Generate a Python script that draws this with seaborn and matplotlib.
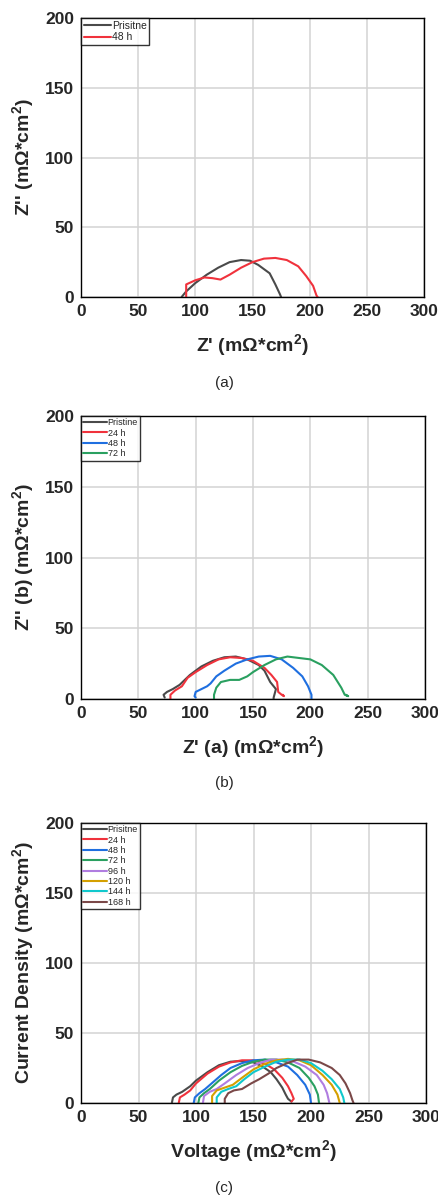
import numpy as np
import pandas as pd
import matplotlib
matplotlib.use("Agg")
import matplotlib.pyplot as plt
import seaborn as sns

# ---------------- data ----------------
# Panel (a)
a_prist_x = [88, 92, 100, 110, 120, 130, 140, 148, 155, 165, 170, 174, 175]
a_prist_y = [0, 4, 10, 16, 21, 25, 26.5, 26, 23, 17, 9, 2, 0]
a_48_x = [92, 92, 100, 108, 115, 122, 130, 140, 150, 160, 170, 180, 190, 197, 203, 206, 207]
a_48_y = [0, 9, 12, 14, 13.5, 12.5, 16, 21, 25, 27.5, 28, 26.5, 22, 15, 8, 1, 0]

# Panel (b)
b_prist_x = [73, 72, 75, 80, 86, 95, 105, 115, 125, 135, 145, 155, 160, 165, 170, 168, 168]
b_prist_y = [1, 3, 5, 7, 10, 17, 23, 27, 29.5, 30, 28, 24, 20, 12, 7, 1, 0]
b_24_x = [78, 78, 82, 88, 93, 100, 110, 120, 130, 140, 150, 160, 166, 171, 172, 175, 177, 176]
b_24_y = [0, 3, 6, 9, 15, 19, 24, 28, 29.5, 29, 27, 22, 17, 12, 5, 3, 2, 3]
b_48_x = [100, 99, 100, 105, 110, 113, 118, 125, 135, 145, 155, 165, 175, 185, 193, 198, 201, 201]
b_48_y = [1, 2, 5, 7, 9, 11, 16, 20, 25, 28, 30, 30.5, 28, 22, 16, 9, 3, 0]
b_72_x = [116, 116, 118, 122, 130, 138, 145, 150, 160, 170, 180, 190, 200, 210, 220, 227, 230, 233, 231]
b_72_y = [0, 3, 8, 12, 13.5, 13.5, 16, 19, 24, 28, 30, 29, 28, 24, 17, 8, 3, 2, 3]

# Panel (c)
c_prist_x = [79, 80, 83, 88, 95, 100, 110, 120, 130, 140, 150, 158, 165, 170, 175, 178, 180, 183]
c_prist_y = [0, 4, 6, 8, 12, 16, 22, 27, 29.5, 30, 29, 26, 22, 17, 11, 6, 3, 1]
c_24_x = [85, 86, 90, 95, 100, 110, 120, 130, 140, 150, 160, 168, 175, 180, 183, 185, 183]
c_24_y = [0, 4, 6, 9, 14, 21, 26, 29, 30.5, 30.5, 28, 24, 18, 12, 7, 3, 1]
c_48_x = [98, 99, 103, 108, 115, 122, 130, 140, 150, 160, 170, 180, 188, 195, 199, 200]
c_48_y = [0, 4, 7, 10, 15, 20, 25, 28.5, 30.5, 31, 29, 26, 20, 13, 6, 0]
c_72_x = [102, 103, 107, 112, 120, 130, 140, 150, 160, 170, 180, 190, 198, 203, 206, 207]
c_72_y = [0, 4, 7, 10, 16, 22, 26.5, 29.5, 31, 31, 29, 25, 18, 12, 6, 0]
c_96_x = [106, 107, 112, 118, 125, 135, 145, 155, 165, 175, 185, 195, 205, 211, 214, 216]
c_96_y = [0, 5, 8, 10, 14, 20, 25, 28.5, 31, 31, 29.5, 26, 20, 13, 7, 0]
c_120_x = [114, 114, 118, 125, 132, 140, 150, 160, 170, 180, 190, 200, 210, 218, 223, 225]
c_120_y = [0, 5, 9, 11, 13, 18, 24, 28, 30.5, 31.5, 30.5, 27, 20, 13, 6, 0]
c_144_x = [118, 118, 122, 128, 135, 142, 150, 160, 170, 180, 190, 200, 210, 218, 225, 228, 229]
c_144_y = [0, 4, 8, 10, 12, 17, 22, 26, 29.5, 31, 31, 28.5, 23, 17, 10, 4, 0]
c_168_x = [125, 125, 128, 133, 140, 148, 155, 163, 170, 178, 188, 198, 208, 218, 225, 230, 234, 236, 237]
c_168_y = [0, 3, 7, 9, 10, 14, 17, 21, 25, 28, 31, 31, 29, 25, 20, 14, 7, 2, 0]

x_ticks = [0, 50, 100, 150, 200, 250, 300]
y_ticks = [0, 50, 100, 150, 200]

C_GRAY = "#4a4a4a"
C_RED = "#f0323c"
C_BLUE = "#1f6fe0"
C_GREEN = "#2aa060"
C_PURPLE = "#b07de0"
C_GOLD = "#d4a000"
C_CYAN = "#10c8cc"
C_BROWN = "#7a4848"

panels = [
    dict(series=[("Prisitne", a_prist_x, a_prist_y, C_GRAY),
                 ("48 h", a_48_x, a_48_y, C_RED)],
         xlabel="Z' (mΩ*cm$^\\mathbf{2}$)", ylabel="Z'' (mΩ*cm$^\\mathbf{2}$)",
         caption="(a)", legfs=7.5),
    dict(series=[("Pristine", b_prist_x, b_prist_y, C_GRAY),
                 ("24 h", b_24_x, b_24_y, C_RED),
                 ("48 h", b_48_x, b_48_y, C_BLUE),
                 ("72 h", b_72_x, b_72_y, C_GREEN)],
         xlabel="Z' (a) (mΩ*cm$^\\mathbf{2}$)", ylabel="Z'' (b) (mΩ*cm$^\\mathbf{2}$)",
         caption="(b)", legfs=6.5),
    dict(series=[("Prisitne", c_prist_x, c_prist_y, C_GRAY),
                 ("24 h", c_24_x, c_24_y, C_RED),
                 ("48 h", c_48_x, c_48_y, C_BLUE),
                 ("72 h", c_72_x, c_72_y, C_GREEN),
                 ("96 h", c_96_x, c_96_y, C_PURPLE),
                 ("120 h", c_120_x, c_120_y, C_GOLD),
                 ("144 h", c_144_x, c_144_y, C_CYAN),
                 ("168 h", c_168_x, c_168_y, C_BROWN)],
         xlabel="Voltage (mΩ*cm$^\\mathbf{2}$)", ylabel="Current Density (mΩ*cm$^\\mathbf{2}$)",
         caption="(c)", legfs=6.5),
]

sns.set_theme(style="white")
plt.rcParams['font.family'] = ['Liberation Sans', 'DejaVu Sans']
plt.rcParams['mathtext.fontset'] = 'custom'
plt.rcParams['mathtext.rm'] = 'Liberation Sans'
plt.rcParams['mathtext.bf'] = 'Liberation Sans:bold'

W, H = 439, 1202
fig = plt.figure(figsize=(W / 100, H / 100), dpi=100)

# axes boxes in pixels: (left, top, right, bottom)
boxes = [(81, 18, 424, 297), (81, 416, 425, 699), (81, 823, 426, 1103)]
cap_y = [383, 783, 1188]

for p, box, cy in zip(panels, boxes, cap_y):
    l, t, r, b = box
    ax = fig.add_axes([l / W, 1 - b / H, (r - l) / W, (b - t) / H])
    rows = []
    for name, xs, ys, col in p["series"]:
        for i, (xv, yv) in enumerate(zip(xs, ys)):
            rows.append(dict(x=xv, y=yv, s=name, i=i))
    df = pd.DataFrame(rows)
    order = [s[0] for s in p["series"]]
    pal = {s[0]: s[3] for s in p["series"]}
    sns.lineplot(data=df, x="x", y="y", hue="s", hue_order=order, palette=pal,
                 sort=False, estimator=None, units="s", lw=1.5, ax=ax, legend=True)
    ax.set_xlim(0, 300)
    ax.set_ylim(0, 200)
    ax.set_xticks(x_ticks)
    ax.set_yticks(y_ticks)
    ax.set_xticks([25, 75, 125, 175, 225, 275], minor=True)
    ax.set_yticks([25, 75, 125, 175], minor=True)
    ax.grid(True, which="major", color="#d3d3d3", lw=1.1)
    ax.set_axisbelow(True)
    ax.tick_params(which="both", direction="in", color="black", width=0.8)
    ax.tick_params(which="major", length=4, labelsize=12.5, pad=5)
    ax.tick_params(which="minor", length=3)
    for lab in ax.get_xticklabels() + ax.get_yticklabels():
        lab.set_fontweight("bold")
    for sp in ax.spines.values():
        sp.set_color("black")
        sp.set_linewidth(1.0)
    ax.set_xlabel(p["xlabel"], fontsize=14, fontweight="bold", labelpad=10)
    ax.set_ylabel(p["ylabel"], fontsize=14, fontweight="bold", labelpad=6)
    leg = ax.legend(loc="upper left", fontsize=p["legfs"], frameon=True, fancybox=False,
                    edgecolor="black", handlelength=2.6, handletextpad=0.1,
                    labelspacing=0.15, borderpad=0.25, borderaxespad=0.0)
    leg.get_frame().set_linewidth(1.0)
    fig.text(224 / W, 1 - cy / H, p["caption"], ha="center", va="center", fontsize=11)

fig.savefig("out.png", dpi=100)
